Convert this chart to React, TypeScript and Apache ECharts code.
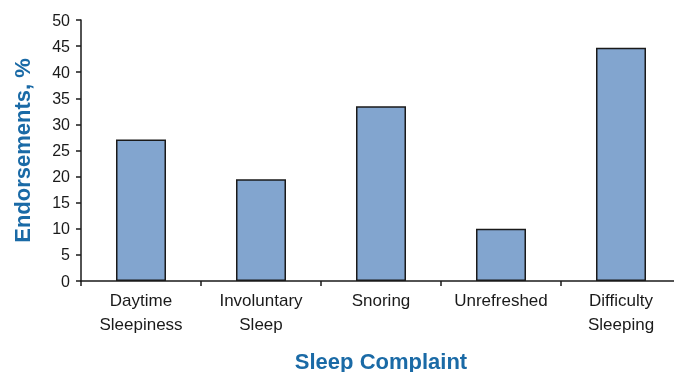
import React, { useEffect, useRef } from "react";
import * as echarts from "echarts";

const categories = ["Daytime\nSleepiness", "Involuntary\nSleep", "Snoring", "Unrefreshed", "Difficulty\nSleeping"];
const endorsements = [27.1, 19.5, 33.5, 10.0, 44.7];
const yTicks = { min: 0, max: 50, interval: 5 };

export default function App() {
  const ref = useRef<HTMLDivElement>(null);
  useEffect(() => {
    document.body.style.margin = "0";
    const chart = echarts.init(ref.current!, null, { renderer: "svg" });
    chart.setOption({
      animation: false,
      grid: { left: 81, top: 20, width: 600, height: 261, outerBoundsMode: "none", containLabel: false },
      xAxis: {
        type: "category",
        data: categories,
        name: "Sleep Complaint",
        nameLocation: "middle",
        nameGap: 69,
        nameTextStyle: { color: "#1a6aa6", fontSize: 22, fontWeight: "bold", fontFamily: "Liberation Sans" },
        axisLine: { lineStyle: { color: "#1a1a1a", width: 1.5 } },
        axisTick: { show: true, length: 5, lineStyle: { color: "#1a1a1a", width: 1.5 } },
        axisLabel: { color: "#1a1a1a", fontSize: 17, fontFamily: "Liberation Sans", lineHeight: 24, margin: 7, interval: 0 },
      },
      yAxis: {
        type: "value",
        min: yTicks.min,
        max: yTicks.max,
        interval: yTicks.interval,
        name: "Endorsements, %",
        nameLocation: "middle",
        nameGap: 48,
        nameTextStyle: { color: "#1a6aa6", fontSize: 22, fontWeight: "bold", fontFamily: "Liberation Sans" },
        splitLine: { show: false },
        axisLine: { show: true, lineStyle: { color: "#1a1a1a", width: 1.5 } },
        axisTick: { show: true, length: 5, lineStyle: { color: "#1a1a1a", width: 1.5 } },
        axisLabel: { color: "#1a1a1a", fontSize: 16, fontFamily: "Liberation Sans", margin: 11 },
      },
      series: [
        {
          type: "bar",
          data: endorsements,
          barWidth: 50,
          itemStyle: { color: "#82a5cf", borderColor: "#1a1a1a", borderWidth: 1.5 },
        },
      ],
    });
    return () => chart.dispose();
  }, []);
  return <div ref={ref} style={{ position: "fixed", left: 0, top: 0, width: 674, height: 372 }} />;
}
